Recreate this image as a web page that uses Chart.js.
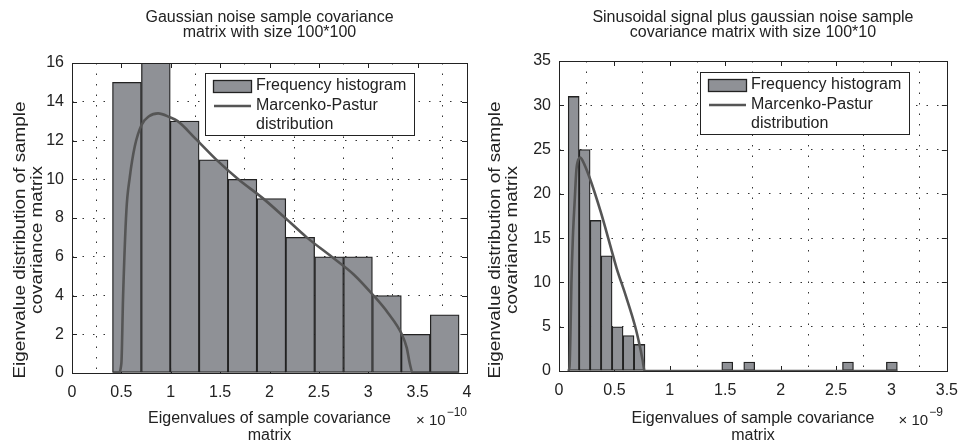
<!DOCTYPE html>
<html>
<head>
<meta charset="utf-8">
<script src="https://cdn.jsdelivr.net/npm/chart.js@4.4.1/dist/chart.umd.min.js"></script>
<style>
  html, body { margin: 0; padding: 0; background: #fff; }
  #wrap { position: relative; width: 968px; height: 444px; }
  canvas { position: absolute; top: 0; }
</style>
</head>
<body>
<div id="wrap">
  <canvas id="noiseChart" width="484" height="444" style="left:0"></canvas>
  <canvas id="signalChart" width="484" height="444" style="left:484px"></canvas>
</div>
<script>
'use strict';

// ---- left panel: gaussian noise, 100*100 (x in units of 1e-10)
const noiseBinCenters = [0.556, 0.849, 1.141, 1.434, 1.726, 2.019, 2.311, 2.604, 2.896, 3.189, 3.481, 3.774];
const noiseCounts = [15, 16, 13, 11, 10, 9, 7, 6, 6, 4, 2, 3];
const noiseCurveX = [0.416, 0.468, 0.50, 0.517, 0.551, 0.585, 0.636, 0.704, 0.78, 0.872, 0.991, 1.07, 1.25, 1.464,
  1.684, 1.937, 2.16, 2.377, 2.63, 2.85, 3.053, 3.2, 3.34, 3.39, 3.42, 3.45, 3.92];
const noiseCurveY = [0, 0, 0.5, 3.9, 8.4, 10.1, 11.7, 12.8, 13.25, 13.4, 13.2, 13.0, 12.1, 11.0,
  10.0, 9.0, 8.0, 7.0, 6.0, 5.1, 4.0, 3.1, 2.0, 1.3, 0.5, 0, 0];
const noiseXTicks = [0, 0.5, 1, 1.5, 2, 2.5, 3, 3.5, 4];
const noiseYTicks = [0, 2, 4, 6, 8, 10, 12, 14, 16];

// ---- right panel: sinusoid + noise, 100*10 (x in units of 1e-9)
const signalBinCenters = [0.1325, 0.2315, 0.3305, 0.4295, 0.5285, 0.6275, 0.7265, 0.8255, 0.9245, 1.0235,
  1.1225, 1.2215, 1.3205, 1.4195, 1.5185, 1.6175, 1.7165, 1.8155, 1.9145, 2.0135,
  2.1125, 2.2115, 2.3105, 2.4095, 2.5085, 2.6075, 2.7065, 2.8055, 2.9045, 3.0035];
const signalCounts = [31, 25, 17, 13, 5, 4, 3, 0, 0, 0, 0, 0, 0, 0, 1, 0, 1, 0, 0, 0,
  0, 0, 0, 0, 0, 1, 0, 0, 0, 1];
const signalCurveX = [0.083, 0.095, 0.103, 0.112, 0.125, 0.142, 0.157, 0.175, 0.192, 0.215, 0.274, 0.378,
  0.475, 0.52, 0.60, 0.688, 0.726, 0.755, 0.772, 3.054];
const signalCurveY = [0, 0.5, 4, 9.9, 15, 19.3, 22.7, 23.9, 24.1, 23.7, 21.9, 17.9,
  13.6, 11.6, 8.6, 5.0, 3.0, 1.2, 0, 0];
const signalXTicks = [0, 0.5, 1, 1.5, 2, 2.5, 3, 3.5];
const signalYTicks = [0, 5, 10, 15, 20, 25, 30, 35];

const FONT = '"Liberation Sans", Arial, Helvetica, sans-serif';
const INK = '#222';
const BAR_FILL = '#8f9196';
const CURVE = '#555';

// frame, inward ticks, legend box, y title and x exponent like the matlab figure
const matlabAxes = {
  id: 'matlabAxes',
  beforeDatasetsDraw(chart, args, o) {
    const {ctx, chartArea: a, scales: {x, y}} = chart;
    ctx.save();
    ctx.strokeStyle = INK;
    ctx.lineWidth = 1;
    ctx.beginPath();
    x.ticks.forEach(t => {
      const px = Math.round(x.getPixelForValue(t.value)) + 0.5;
      ctx.moveTo(px, a.bottom); ctx.lineTo(px, a.bottom - 5);
      ctx.moveTo(px, a.top); ctx.lineTo(px, a.top + 5);
    });
    y.ticks.forEach(t => {
      const py = Math.round(y.getPixelForValue(t.value)) + 0.5;
      ctx.moveTo(a.left, py); ctx.lineTo(a.left + 5, py);
      ctx.moveTo(a.right, py); ctx.lineTo(a.right - 5, py);
    });
    ctx.stroke();
    ctx.restore();
  },
  afterDraw(chart, args, o) {
    const {ctx, chartArea: a} = chart;
    ctx.save();
    ctx.strokeStyle = INK;
    ctx.lineWidth = 1;
    ctx.strokeRect(Math.round(a.left) + 0.5, Math.round(a.top) + 0.5,
      Math.round(a.right - a.left), Math.round(a.bottom - a.top));

    // legend
    const bx = a.left + o.legendX, by = a.top + o.legendY;
    ctx.fillStyle = '#fff';
    ctx.fillRect(bx, by, 209, 62);
    ctx.strokeRect(bx + 0.5, by + 0.5, 209, 62);
    const bars = chart.data.datasets[1], line = chart.data.datasets[0];
    ctx.fillStyle = bars.backgroundColor;
    ctx.fillRect(bx + 8, by + 7, 38, 12);
    ctx.lineWidth = 1.3;
    ctx.strokeRect(bx + 8.5, by + 7.5, 38, 12);
    ctx.strokeStyle = line.borderColor;
    ctx.lineWidth = line.borderWidth;
    ctx.beginPath();
    ctx.moveTo(bx + 9, by + 33); ctx.lineTo(bx + 46, by + 33);
    ctx.stroke();
    ctx.fillStyle = INK;
    ctx.font = '16px ' + FONT;
    ctx.textBaseline = 'middle';
    ctx.textAlign = 'left';
    ctx.fillText(bars.label, bx + 51, by + 13);
    line.label.split('\n').forEach((s, i) => ctx.fillText(s, bx + 51, by + 33 + i * 18.5));

    // y title, two lines, rotated (stretched along its length like the print)
    ctx.save();
    ctx.translate(o.yTitleX, o.yTitleY);
    ctx.rotate(-Math.PI / 2);
    ctx.scale(1.18, 1);
    ctx.textAlign = 'center';
    o.yTitle.forEach((s, i) => ctx.fillText(s, 0, i * 17));
    ctx.restore();

    // x exponent
    ctx.textAlign = 'right';
    ctx.textBaseline = 'alphabetic';
    ctx.font = '12px ' + FONT;
    const sup = o.exponent;
    const supRight = a.right - o.expInset;
    const sw = ctx.measureText(sup).width;
    ctx.fillText(sup, supRight, 416);
    ctx.font = '15px ' + FONT;
    ctx.fillText('\u00d7 10', supRight - sw - 1, 425);
    ctx.restore();
  }
};

function makeChart(id, p) {
  const tickFont = {family: FONT, size: 16};
  return new Chart(document.getElementById(id), {
    type: 'bar',
    data: {
      datasets: [{
        type: 'line',
        label: 'Marcenko-Pastur\ndistribution',
        data: p.curveX.map((v, i) => ({x: v, y: p.curveY[i]})),
        borderColor: CURVE,
        borderWidth: 2.6,
        pointRadius: 0,
        cubicInterpolationMode: 'monotone',
        order: 0
      }, {
        label: 'Frequency histogram',
        data: p.bins.map((v, i) => ({x: v, y: p.counts[i]})),
        backgroundColor: BAR_FILL,
        borderColor: INK,
        borderWidth: 1.3,
        borderSkipped: false,
        barPercentage: 1,
        categoryPercentage: 1,
        order: 1
      }]
    },
    options: {
      responsive: false,
      animation: false,
      layout: {padding: {left: 0, right: p.padRight, top: 0, bottom: 0}},
      plugins: {
        legend: {display: false},
        tooltip: {enabled: false},
        title: {
          display: true,
          text: p.title,
          color: INK,
          fullSize: false,
          font: {family: FONT, size: 16, weight: 'normal', lineHeight: 15 / 16},
          padding: {top: 10.5, bottom: p.areaTop - 10.5 - 30}
        },
        matlabAxes: p.axes
      },
      scales: {
        x: {
          type: 'linear',
          offset: false,
          min: p.xTicks[0],
          max: p.xTicks[p.xTicks.length - 1],
          afterBuildTicks: s => { s.ticks = p.xTicks.map(v => ({value: v})); },
          afterFit: s => { s.height = 444 - p.areaBottom; },
          ticks: {color: INK, font: tickFont, padding: 10, maxRotation: 0, autoSkip: false,
            callback: v => String(v)},
          grid: {color: '#333', lineWidth: 1, drawTicks: false},
          border: {display: false, dash: [1.5, 9]},
          title: {
            display: true,
            text: ['Eigenvalues of sample covariance', 'matrix'],
            color: INK,
            font: {family: FONT, size: 16, lineHeight: 17 / 16},
            padding: {top: 0, bottom: 0}
          }
        },
        y: {
          min: p.yTicks[0],
          max: p.yTicks[p.yTicks.length - 1],
          afterBuildTicks: s => { s.ticks = p.yTicks.map(v => ({value: v})); },
          afterFit: s => { s.width = p.areaLeft; },
          ticks: {color: INK, font: tickFont, padding: 8, autoSkip: false, callback: v => String(v)},
          grid: {color: '#333', lineWidth: 1, drawTicks: false},
          border: {display: false, dash: [1.5, 9]}
        }
      }
    },
    plugins: [matlabAxes]
  });
}

makeChart('noiseChart', {
  title: ['Gaussian noise sample covariance', 'matrix with size 100*100'],
  bins: noiseBinCenters, counts: noiseCounts,
  curveX: noiseCurveX, curveY: noiseCurveY,
  xTicks: noiseXTicks, yTicks: noiseYTicks,
  areaLeft: 72, padRight: 17, areaTop: 63, areaBottom: 373,
  axes: {legendX: 133, legendY: 10, yTitleX: 21, yTitleY: 240, expInset: 0,
    yTitle: ['Eigenvalue distribution of sample', 'covariance matrix'], exponent: '\u221210'}
});

makeChart('signalChart', {
  title: ['Sinusoidal signal plus gaussian noise sample', 'covariance matrix with size 100*10'],
  bins: signalBinCenters, counts: signalCounts,
  curveX: signalCurveX, curveY: signalCurveY,
  xTicks: signalXTicks, yTicks: signalYTicks,
  areaLeft: 75, padRight: 14, areaTop: 61, areaBottom: 371,
  axes: {legendX: 141, legendY: 11, yTitleX: 12, yTitleY: 240, expInset: 4,
    yTitle: ['Eigenvalue distribution of sample', 'covariance matrix'], exponent: '\u22129'}
});
</script>
</body>
</html>
